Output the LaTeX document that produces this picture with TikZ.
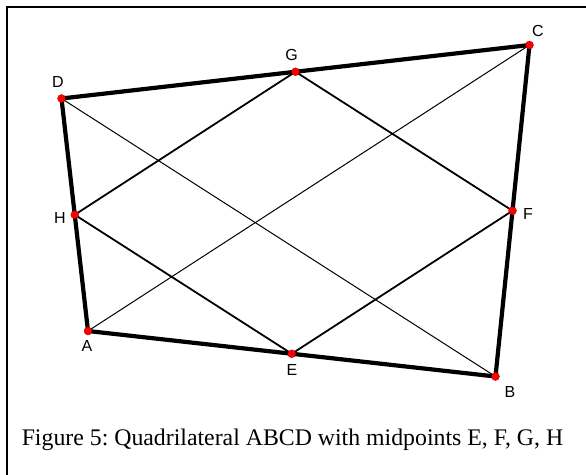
\documentclass[tikz,border=0pt]{standalone}
\usepackage{fontspec}
\setmainfont{Liberation Serif}
\newfontfamily\lblfont{Liberation Sans}
\usetikzlibrary{calc}
\frenchspacing
\begin{document}
\begin{tikzpicture}[x=1pt,y=-1pt,
  quad/.style={line width=4.2pt, line cap=round, line join=round},
  mid/.style={line width=1.8pt},
  diag/.style={line width=1pt},
  frame/.style={line width=2.6pt},
  pt/.style={circle, fill=red, draw=red!60!black, line width=0.3pt, inner sep=0pt, minimum size=8pt},
  lbl/.style={font=\lblfont\fontsize{16}{18}\selectfont, inner sep=0pt, anchor=center},
  captext/.style={font=\fontsize{23.8}{27}\selectfont, inner sep=0pt, anchor=base}]
\useasboundingbox (0,0) rectangle (586,474);
% frame (only top and left edges visible)
\coordinate (fTL) at (7,7);
\coordinate (fTR) at (590,7);
\coordinate (fBL) at (7,478);
\draw[frame] (fBL) -- (fTL) -- (fTR);
% vertices
\coordinate (A) at (88,331);
\coordinate (B) at (495.5,376.5);
\coordinate (C) at (529.5,45);
\coordinate (D) at (61.5,98.5);
\coordinate (E) at ($(A)!0.5!(B)$);
\coordinate (F) at ($(B)!0.5!(C)$);
\coordinate (G) at ($(C)!0.5!(D)$);
\coordinate (H) at ($(D)!0.5!(A)$);
% diagonals
\draw[diag] (A) -- (C);
\draw[diag] (B) -- (D);
% midpoint parallelogram
\draw[mid] (E) -- (F) -- (G) -- (H) -- cycle;
% quadrilateral
\draw[quad] (A) -- (B) -- (C) -- (D) -- cycle;
% points
\foreach \p in {A,B,C,D,E,F,G,H} \node[pt] (p\p) at (\p) {};
% labels
\node[lbl] (lA) at (87,346) {A};
\node[lbl] (lB) at (510,392) {B};
\node[lbl] (lC) at (538,31) {C};
\node[lbl] (lD) at (58,82) {D};
\node[lbl] (lE) at (292,370) {E};
\node[lbl] (lF) at (528,214) {F};
\node[lbl] (lG) at (291.5,54.5) {G};
\node[lbl] (lH) at (60,218) {H};
% caption
\node[captext] (caption) at (292.5,445) {Figure 5: Quadrilateral ABCD with midpoints E, F, G, H};
\end{tikzpicture}
\end{document}
